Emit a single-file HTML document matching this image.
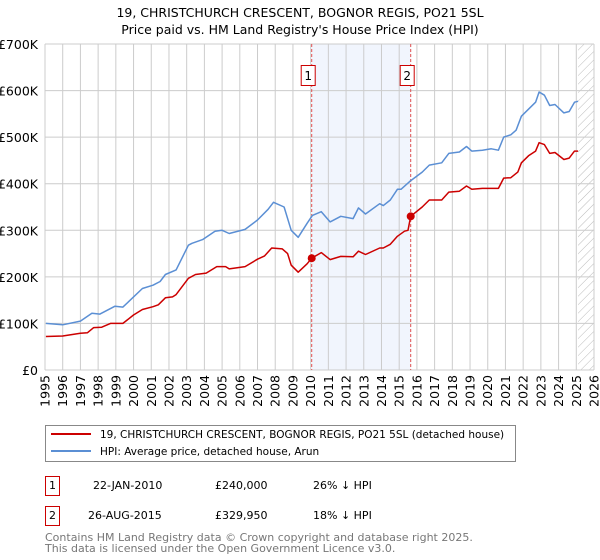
<!DOCTYPE html>
<html><head><meta charset="utf-8"><style>
body{margin:0;background:#fff;font-family:"Liberation Sans","DejaVu Sans",sans-serif;}
svg{display:block}
</style></head><body>
<svg id="c" width="600" height="560" xmlns="http://www.w3.org/2000/svg" font-family="DejaVu Sans, Liberation Sans, sans-serif">
<text x="300" y="17" text-anchor="middle" font-size="12.5">19, CHRISTCHURCH CRESCENT, BOGNOR REGIS, PO21 5SL</text>
<text x="300" y="34" text-anchor="middle" font-size="12.5">Price paid vs. HM Land Registry's House Price Index (HPI)</text>
<g id="plot"></g>
<g>
<rect x="45.5" y="425.5" width="470" height="36" fill="#fff" stroke="#888"/>
<line x1="51" y1="434" x2="91" y2="434" stroke="#cc0000" stroke-width="2"/>
<text x="100" y="438" font-size="10.5">19, CHRISTCHURCH CRESCENT, BOGNOR REGIS, PO21 5SL (detached house)</text>
<line x1="51" y1="451" x2="91" y2="451" stroke="#5b8fd4" stroke-width="2"/>
<text x="100" y="455" font-size="10.5">HPI: Average price, detached house, Arun</text>
</g>
<g font-size="11">
<rect x="45.5" y="476.5" width="14" height="19" fill="#fff" stroke="#cc0000"/>
<text x="52.5" y="489" text-anchor="middle">1</text>
<text x="93" y="489">22-JAN-2010</text><text x="215" y="489">£240,000</text><text x="313" y="489">26% ↓ HPI</text>
<rect x="45.5" y="506.5" width="14" height="19" fill="#fff" stroke="#cc0000"/>
<text x="52.5" y="519" text-anchor="middle">2</text>
<text x="88" y="519">26-AUG-2015</text><text x="215" y="519">£329,950</text><text x="313" y="519">18% ↓ HPI</text>
</g>
<text x="45" y="541" font-size="11" fill="#777">Contains HM Land Registry data © Crown copyright and database right 2025.</text>
<text x="45" y="552" font-size="11" fill="#777">This data is licensed under the Open Government Licence v3.0.</text>
</svg>
<script>
const hpiYears=[1995.05,1996.0,1997.0,1997.65,1998.1,1998.95,1999.4,2000.5,2001.1,2001.5,2001.8,2002.4,2003.1,2003.3,2003.9,2004.6,2005.0,2005.4,2006.3,2007.0,2007.6,2007.9,2008.5,2008.9,2009.3,2009.8,2010.1,2010.6,2011.1,2011.7,2012.4,2012.7,2013.1,2013.9,2014.1,2014.5,2014.9,2015.1,2015.6,2016.3,2016.7,2017.4,2017.8,2018.4,2018.8,2019.1,2019.7,2020.2,2020.6,2020.9,2021.3,2021.6,2021.9,2022.3,2022.7,2022.9,2023.2,2023.5,2023.8,2024.3,2024.6,2024.9,2025.1];
const hpiValues=[100,97,105,122,120,137,135,175,182,190,205,215,268,272,280,298,300,293,302,322,345,360,350,300,285,315,332,340,318,330,325,348,335,357,353,365,388,388,405,425,440,445,465,468,480,470,472,475,472,500,505,515,545,560,575,597,590,568,570,552,555,575,577];
const ppYears=[1995.05,1996.0,1997.0,1997.4,1997.75,1998.2,1998.7,1999.4,2000.0,2000.5,2001.1,2001.4,2001.8,2002.2,2002.4,2003.1,2003.5,2004.1,2004.7,2005.2,2005.4,2006.3,2007.0,2007.4,2007.8,2008.4,2008.7,2008.9,2009.3,2009.8,2010.06,2010.6,2011.1,2011.7,2012.4,2012.7,2013.1,2013.9,2014.1,2014.5,2014.9,2015.3,2015.5,2015.65,2016.3,2016.7,2017.4,2017.8,2018.4,2018.8,2019.1,2019.7,2020.2,2020.6,2020.9,2021.3,2021.7,2021.9,2022.3,2022.7,2022.9,2023.2,2023.5,2023.8,2024.3,2024.6,2024.9,2025.1];
const ppValues=[72,73,79,80,91,92,100,100,118,130,136,140,155,157,162,197,205,208,222,222,217,222,238,245,262,260,250,225,210,228,240,252,237,244,243,255,248,262,262,270,287,298,300,330,350,365,365,382,384,395,388,390,390,390,412,413,425,445,460,470,488,484,465,467,452,455,470,470];
const sales=[{label:"1",year:2010.06,value:240},{label:"2",year:2015.65,value:329.95}];
const yTicks=[0,100,200,300,400,500,600,700];
const yTickLabels=["£0","£100K","£200K","£300K","£400K","£500K","£600K","£700K"];
const xTicks=[1995,1996,1997,1998,1999,2000,2001,2002,2003,2004,2005,2006,2007,2008,2009,2010,2011,2012,2013,2014,2015,2016,2017,2018,2019,2020,2021,2022,2023,2024,2025,2026];

const X0=45,X1=594,Y0=370,Y1=44;
const xs=y=>X0+(y-1995)/31*(X1-X0);
const ys=v=>Y0-v/700*(Y0-Y1);
const NS="http://www.w3.org/2000/svg";
const g=document.getElementById('plot');
function mk(t,a){const e=document.createElementNS(NS,t);for(const k in a)e.setAttribute(k,a[k]);g.appendChild(e);return e;}
let band=mk('rect',{x:xs(sales[0].year),y:Y1,width:xs(sales[1].year)-xs(sales[0].year),height:Y0-Y1,fill:'#eef3fc',opacity:0.8});


const defs=document.createElementNS(NS,'defs');defs.innerHTML='<pattern id="h" width="6" height="6" patternUnits="userSpaceOnUse" patternTransform="rotate(45)"><line x1="0" y1="0" x2="0" y2="6" stroke="#bbb" stroke-width="1"/></pattern>';g.appendChild(defs);
let hat=mk('rect',{x:xs(2025.1),y:Y1,width:X1-xs(2025.1),height:Y0-Y1,fill:'url(#h)'});


xTicks.forEach((t,i)=>{
 let l=mk('line',{x1:xs(t),x2:xs(t),y1:Y1,y2:Y0,stroke:'#ccc','stroke-width':1});
 
 
 let tx=mk('text',{x:0,y:0,'font-size':12.5,'text-anchor':'end',transform:`translate(${xs(t)+4.5},${Y0+5}) rotate(-90)`});
 tx.textContent=t;
 
 
});
yTicks.forEach((t,i)=>{
 let l=mk('line',{x1:X0,x2:X1,y1:ys(t),y2:ys(t),stroke:'#ccc','stroke-width':1});
 
 
 let tx=mk('text',{x:38,y:ys(t)+5,'font-size':12.5,'text-anchor':'end'});
 tx.textContent=yTickLabels[i];
 
 
});
sales.forEach(s=>{
 let l=mk('line',{x1:xs(s.year),x2:xs(s.year),y1:Y1,y2:Y0,stroke:'#e05050','stroke-width':1,'stroke-dasharray':'3,2'});
 
 
});
function path(xa,va,col,name){
 const d=xa.map((x,i)=>(i?'L':'M')+xs(x).toFixed(1)+','+ys(va[i]).toFixed(1)).join('');
 let p=mk('path',{d:d,fill:'none',stroke:col,'stroke-width':1.5,'stroke-linejoin':'round'});
 
 
}
path(hpiYears,hpiValues,'#5b8fd4','hpi-line');
path(ppYears,ppValues,'#cc0000','property-price-line');
sales.forEach(s=>{
 let c=mk('circle',{cx:xs(s.year),cy:ys(s.value),r:4,fill:'#cc0000'});
 
 
 let r=mk('rect',{x:xs(s.year)-10.5,y:65.5,width:14,height:20,fill:'#fff',stroke:'#cc0000'});
 
 
 let t=mk('text',{x:xs(s.year)-3.5,y:80,'font-size':12,'text-anchor':'middle'});
 t.textContent=s.label;
 
 
});
</script>
</body></html>
